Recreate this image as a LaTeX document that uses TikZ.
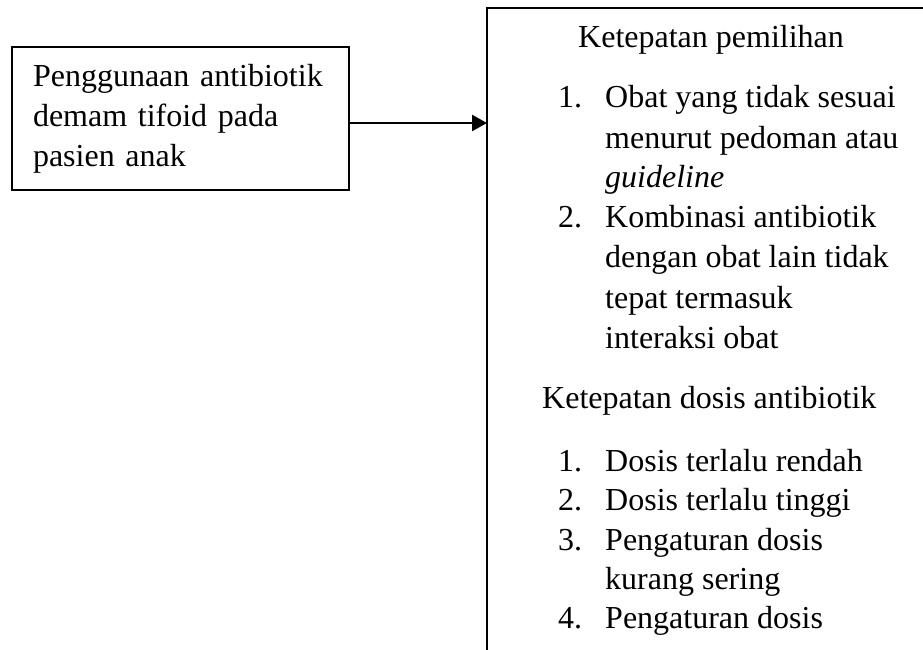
\documentclass[tikz,border=0pt]{standalone}
\usepackage{fontspec}
\setmainfont{Liberation Serif}
\usetikzlibrary{arrows.meta}

\tikzset{
  txt/.style={anchor=base west, inner sep=0pt},
  inbox/.style={draw=black, line width=2.5pt, minimum width=337pt, minimum height=143pt,
    text width=295pt, inner xsep=21pt, align=left},
  edge/.style={line width=2.5pt},
}

\begin{document}
\begin{tikzpicture}[x=1pt, y=-1pt, font=\fontsize{32}{40}\selectfont]
  \useasboundingbox (0,0) rectangle (923,650);

  \node[inbox] (use) at (180.5,118.5) {Penggunaan antibiotik\\demam tifoid pada\\pasien anak};

  \coordinate (sel) at (487,8);
  \draw[edge] (923,8) -- (sel) -- (487,650);
  \draw[edge, -{Triangle[length=15pt,width=16pt]}] ([yshift=-4.5pt]use.east) -- ([yshift=-4.5pt]use.east -| sel);

  % ketepatan pemilihan
  \node[txt] (selhead) at (578,48) {Ketepatan pemilihan};
  \node[txt] (sel1n) at (558,108) {1.};
  \node[txt] (sel1a) at (605,108) {Obat yang tidak sesuai};
  \node[txt] (sel1b) at (605,148) {menurut pedoman atau};
  \node[txt] (sel1c) at (605,187) {\textit{guideline}};
  \node[txt] (sel2n) at (558,227) {2.};
  \node[txt] (sel2a) at (605,227) {Kombinasi antibiotik};
  \node[txt] (sel2b) at (605,267) {dengan obat lain tidak};
  \node[txt] (sel2c) at (605,308) {tepat termasuk};
  \node[txt] (sel2d) at (605,348) {interaksi obat};

  % ketepatan dosis
  \node[txt] (doshead) at (542,408) {Ketepatan dosis antibiotik};
  \node[txt] (dos1n) at (558,471) {1.};
  \node[txt] (dos1a) at (605,471) {Dosis terlalu rendah};
  \node[txt] (dos2n) at (558,510) {2.};
  \node[txt] (dos2a) at (605,510) {Dosis terlalu tinggi};
  \node[txt] (dos3n) at (558,550) {3.};
  \node[txt] (dos3a) at (605,550) {Pengaturan dosis};
  \node[txt] (dos3b) at (605,589) {kurang sering};
  \node[txt] (dos4n) at (558,628) {4.};
  \node[txt] (dos4a) at (605,628) {Pengaturan dosis};
\end{tikzpicture}
\end{document}
